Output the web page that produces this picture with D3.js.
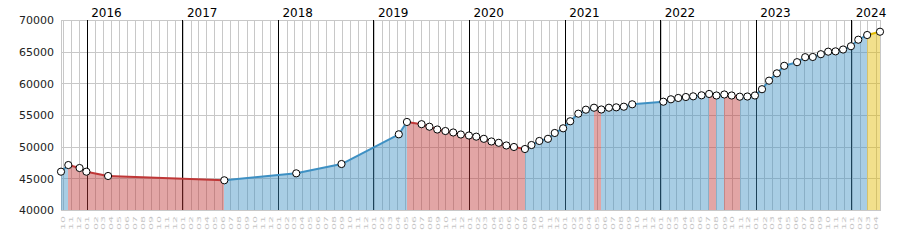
<!DOCTYPE html>
<html>
<head>
<meta charset="utf-8">
<script src="https://cdn.jsdelivr.net/npm/d3@7"></script>
<style>
body { margin: 0; background: #fff; }
text { font-family: "DejaVu Sans", Verdana, sans-serif; }
</style>
</head>
<body>
<div id="chart"></div>
<script>
// measurement dates and values
var dates = ['2015-09-23','2015-10-21','2015-12-03','2015-12-29','2016-03-21','2017-06-08','2018-03-10','2018-08-30',
	'2019-04-06','2019-05-07','2019-07-02','2019-08-01','2019-08-31','2019-10-01','2019-10-31','2019-11-29','2019-12-30',
	'2020-01-27','2020-02-25','2020-03-25','2020-04-22','2020-05-21','2020-06-19','2020-07-31','2020-08-25','2020-09-24',
	'2020-10-27','2020-11-22','2020-12-24','2021-01-20','2021-02-20','2021-03-21','2021-04-21','2021-05-19','2021-06-17',
	'2021-07-15','2021-08-13','2021-09-14','2022-01-11','2022-02-09','2022-03-09','2022-04-07','2022-05-05','2022-06-06',
	'2022-07-05','2022-08-02','2022-09-01','2022-09-29','2022-10-30','2022-11-28','2022-12-27','2023-01-23','2023-02-19',
	'2023-03-21','2023-04-18','2023-06-06','2023-07-07','2023-08-05','2023-09-05','2023-10-03','2023-10-31','2023-11-29',
	'2023-12-29','2024-01-26','2024-02-29','2024-04-18'];
var values = [46050,47100,46630,46050,45370,44690,45790,47260,
	51950,53900,53550,53150,52710,52470,52240,51920,51760,
	51580,51240,50820,50610,50190,49950,49630,50260,50900,
	51240,52160,52900,54010,55210,55840,56150,55870,56150,
	56210,56310,56690,57100,57480,57690,57840,57950,58110,
	58320,58080,58240,58080,57890,57920,58080,59070,60420,
	61580,62770,63340,64130,64160,64600,65000,65050,65340,
	65860,66890,67630,68150];
var yTicks = [40000, 45000, 50000, 55000, 60000, 65000, 70000];

var colUp = 'rgb(62,144,195)', colDown = 'rgb(191,55,55)', colLast = 'rgb(226,186,0)';

var margin = { top: 20, right: 20, bottom: 40, left: 61 },
	width = 900 - margin.left - margin.right,
	height = 250 - margin.top - margin.bottom;

var parse = d3.timeParse('%Y-%m-%d');
var data = dates.map(function(d, i) { return { date: parse(d), value: values[i] }; });

var x = d3.scaleTime().domain(d3.extent(data, function(d) { return d.date; })).range([0, width]);
var y = d3.scaleLinear().domain([40000, 70000]).range([height, 0]);

var svg = d3.select('#chart').append('svg')
	.attr('width', 900)
	.attr('height', 250)
	.append('g')
	.attr('transform', 'translate(' + margin.left + ',' + margin.top + ')');

// horizontal grid + y labels
var yAxis = svg.append('g')
	.call(d3.axisLeft(y).tickValues(yTicks).tickSize(-width).tickPadding(7).tickFormat(d3.format('d')));
yAxis.select('.domain').remove();
yAxis.selectAll('line').attr('stroke', '#c8c8c8').attr('shape-rendering', 'crispEdges');
yAxis.selectAll('text').attr('fill', '#222').style('font-size', '11px').attr('dy', '0.35em');

// monthly grid + rotated month labels
var months = d3.timeMonth.range(d3.timeMonth.ceil(x.domain()[0]), x.domain()[1]);
var xAxis = svg.append('g')
	.attr('transform', 'translate(0,' + height + ')')
	.call(d3.axisBottom(x).tickValues(months).tickSize(-height).tickFormat(d3.timeFormat('%m')));
xAxis.select('.domain').remove();
xAxis.selectAll('line').attr('stroke', '#c8c8c8').attr('shape-rendering', 'crispEdges');
xAxis.selectAll('text')
	.attr('fill', '#c4c4c4')
	.style('font-size', '11px')
	.style('text-anchor', 'end')
	.attr('x', -6)
	.attr('y', 0)
	.attr('dy', '0.35em')
	.attr('transform', 'rotate(-90) scale(1,0.45)');

// frame
svg.append('rect')
	.attr('width', width).attr('height', height)
	.attr('fill', 'none').attr('stroke', '#c8c8c8')
	.attr('shape-rendering', 'crispEdges');

// year lines + labels
var years = d3.timeYear.range(d3.timeYear.ceil(x.domain()[0]), x.domain()[1]);
svg.selectAll('.yearLine')
	.data(years)
	.enter().append('line')
	.attr('class', 'yearLine')
	.attr('x1', function(d) { return x(d); })
	.attr('x2', function(d) { return x(d); })
	.attr('y1', 0).attr('y2', height)
	.attr('stroke', '#000')
	.attr('shape-rendering', 'crispEdges');
svg.selectAll('.yearLabel')
	.data(years)
	.enter().append('text')
	.attr('class', 'yearLabel')
	.attr('x', function(d) { return x(d) + 4; })
	.attr('y', -3)
	.style('font-size', '12px')
	.attr('fill', '#000')
	.text(function(d) { return d.getFullYear(); });

// segments, coloured by direction
var segs = d3.pairs(data).map(function(p, i, arr) {
	var c = i === arr.length - 1 ? colLast : (p[1].value < p[0].value ? colDown : colUp);
	return { pts: p, color: c };
});

var area = d3.area()
	.x(function(d) { return x(d.date); })
	.y0(height)
	.y1(function(d) { return y(d.value); });
var line = d3.line()
	.x(function(d) { return x(d.date); })
	.y(function(d) { return y(d.value); });

svg.selectAll('.seg')
	.data(segs)
	.enter().append('path')
	.attr('class', 'seg')
	.attr('d', function(d) { return area(d.pts); })
	.attr('fill', function(d) { return d.color; })
	.attr('fill-opacity', 0.45)
	.attr('shape-rendering', 'crispEdges');

svg.selectAll('.segLine')
	.data(segs)
	.enter().append('path')
	.attr('class', 'segLine')
	.attr('d', function(d) { return line(d.pts); })
	.attr('fill', 'none')
	.attr('stroke', function(d) { return d.color; })
	.attr('stroke-width', 2);

svg.selectAll('.dot')
	.data(data)
	.enter().append('circle')
	.attr('class', 'dot')
	.attr('cx', function(d) { return x(d.date); })
	.attr('cy', function(d) { return y(d.value); })
	.attr('r', 3.6)
	.attr('fill', '#fff')
	.attr('stroke', '#000')
	.attr('stroke-width', 1);
</script>
</body>
</html>
